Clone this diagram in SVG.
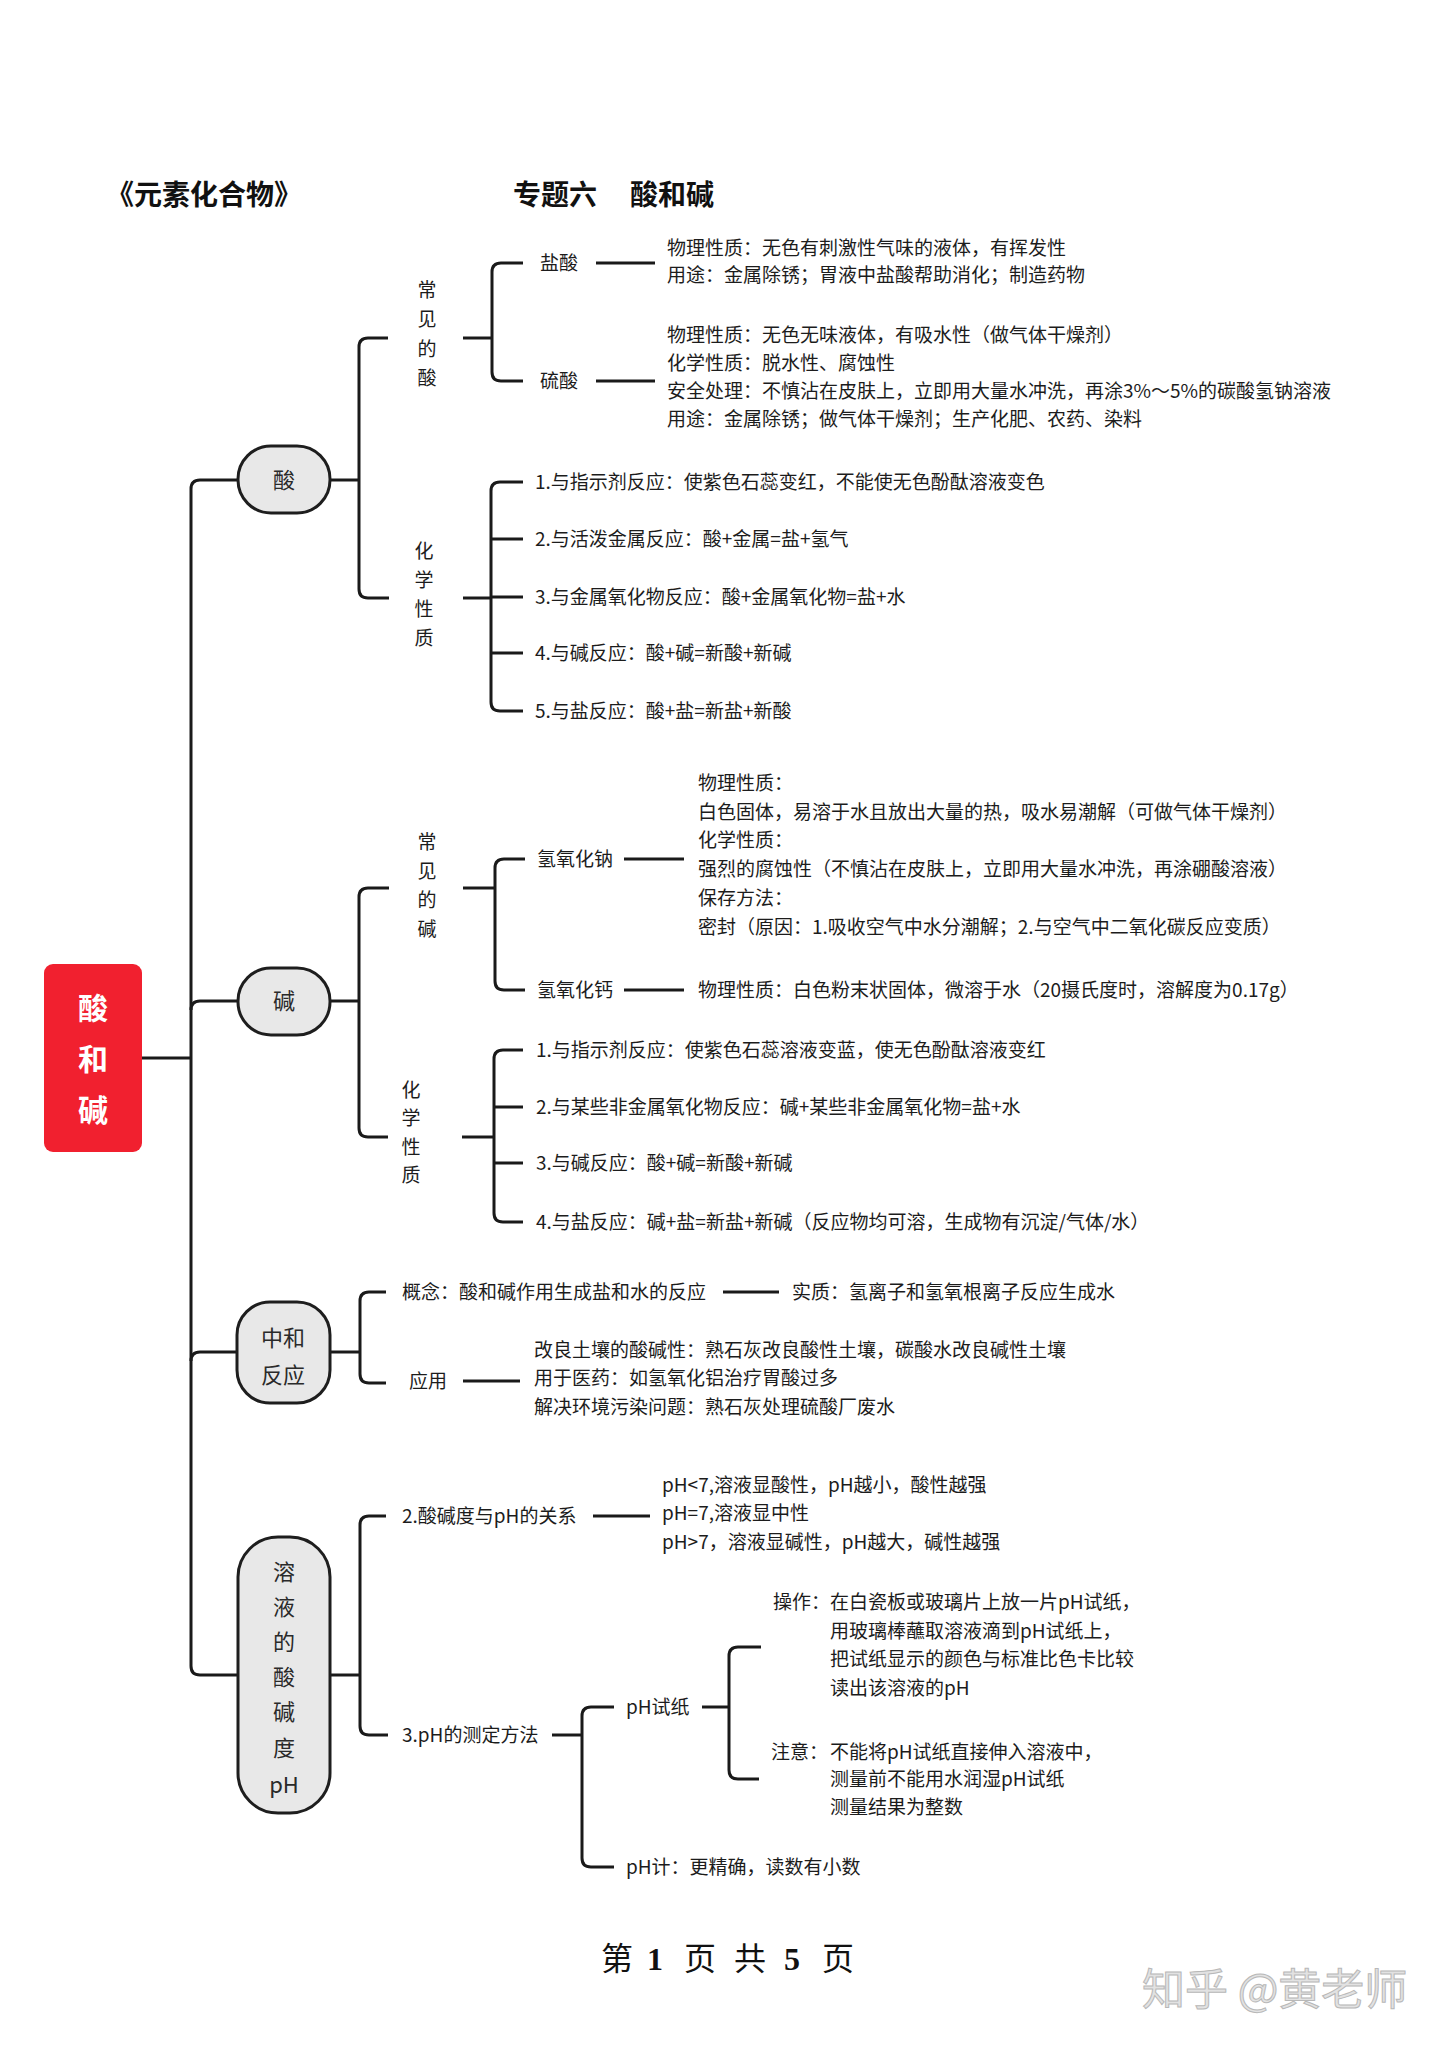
<svg xmlns="http://www.w3.org/2000/svg" width="1448" height="2048" viewBox="0 0 1448 2048">
<style>
text{font-family:"Noto Sans CJK SC","Liberation Sans",sans-serif;fill:#1c1c1c;}
.t{font-size:19px;}
.v{font-size:19px;text-anchor:middle;}
.n{font-size:22px;text-anchor:middle;fill:#2a2a2a;}
.title{font-size:28px;font-weight:700;fill:#111;}
.root{font-size:30px;font-weight:700;fill:#fff;text-anchor:middle;}
.foot{font-family:"Liberation Serif","Noto Sans CJK SC",serif;font-size:32px;text-anchor:middle;fill:#111;}
.wm{font-size:43px;fill:#e2e2e2;stroke:#b8b8b8;stroke-width:1;}
.ln{fill:none;stroke:#1a1a1a;stroke-width:3;stroke-linecap:butt;stroke-linejoin:round;}
.node{fill:#e8e8e8;stroke:#1e1e1e;stroke-width:3;}
</style>
<rect width="1448" height="2048" fill="#fff"/>

<g id="header">
<text class="title" x="106" y="205">《元素化合物》</text>
<text class="title" x="513" y="205">专题六</text>
<text class="title" x="630" y="205">酸和碱</text>
</g>

<g id="connectors">
<path class="ln" d="M142 1058 H191"/>
<path class="ln" d="M238 480 H200 Q191 480 191 489 V1666 Q191 1675 200 1675 H238"/>
<path class="ln" d="M191 1010 Q191 1001 200 1001 H238"/>
<path class="ln" d="M191 1361 Q191 1352 200 1352 H238"/>
<path class="ln" d="M330 480 H359"/>
<path class="ln" d="M388 338 H368 Q359 338 359 347 V589 Q359 598 368 598 H389"/>
<path class="ln" d="M463 338 H492"/>
<path class="ln" d="M523 263 H501 Q492 263 492 272 V372 Q492 381 501 381 H523"/>
<path class="ln" d="M596 263 H655"/>
<path class="ln" d="M596 381 H655"/>
<path class="ln" d="M463 598 H491"/>
<path class="ln" d="M523 482 H500 Q491 482 491 491 V702 Q491 711 500 711 H523"/>
<path class="ln" d="M491 539 H523 M491 597 H523 M491 653 H523"/>
<path class="ln" d="M330 1001 H359"/>
<path class="ln" d="M389 888 H368 Q359 888 359 897 V1128 Q359 1137 368 1137 H388"/>
<path class="ln" d="M463 888 H495"/>
<path class="ln" d="M525 859 H504 Q495 859 495 868 V981 Q495 990 504 990 H525"/>
<path class="ln" d="M624 859 H684"/>
<path class="ln" d="M624 990 H684"/>
<path class="ln" d="M462 1137 H494"/>
<path class="ln" d="M523 1050 H503 Q494 1050 494 1059 V1213 Q494 1222 503 1222 H523"/>
<path class="ln" d="M494 1107 H523 M494 1163 H523"/>
<path class="ln" d="M330 1352 H360"/>
<path class="ln" d="M386 1292 H369 Q360 1292 360 1301 V1374 Q360 1383 369 1383 H386"/>
<path class="ln" d="M723 1292 H779"/>
<path class="ln" d="M463 1381 H520"/>
<path class="ln" d="M330 1675 H360"/>
<path class="ln" d="M386 1516 H369 Q360 1516 360 1525 V1726 Q360 1735 369 1735 H388"/>
<path class="ln" d="M593 1516 H650"/>
<path class="ln" d="M552 1735 H582"/>
<path class="ln" d="M614 1707 H591 Q582 1707 582 1716 V1858 Q582 1867 591 1867 H614"/>
<path class="ln" d="M702 1707 H729"/>
<path class="ln" d="M761 1647 H738 Q729 1647 729 1656 V1770 Q729 1779 738 1779 H759"/>
</g>

<g id="root">
<rect x="44" y="964" width="98" height="188" rx="9" fill="#f1202f"/>
<text class="root" x="93" y="1019">酸</text>
<text class="root" x="93" y="1070">和</text>
<text class="root" x="93" y="1121">碱</text>
</g>

<g id="node-acid">
<rect class="node" x="238" y="446" width="92" height="67" rx="33"/>
<text class="n" x="284" y="488">酸</text>
</g>

<g id="acid-common">
<text class="v" x="427" y="297">常</text>
<text class="v" x="427" y="326">见</text>
<text class="v" x="427" y="356">的</text>
<text class="v" x="427" y="385">酸</text>
</g>
<g id="acid-hcl">
<text class="t" x="540" y="270">盐酸</text>
<text class="t" x="667" y="255">物理性质：无色有刺激性气味的液体，有挥发性</text>
<text class="t" x="667" y="282">用途：金属除锈；胃液中盐酸帮助消化；制造药物</text>
</g>
<g id="acid-h2so4">
<text class="t" x="540" y="388">硫酸</text>
<text class="t" x="667" y="342">物理性质：无色无味液体，有吸水性（做气体干燥剂）</text>
<text class="t" x="667" y="370">化学性质：脱水性、腐蚀性</text>
<text class="t" x="667" y="398">安全处理：不慎沾在皮肤上，立即用大量水冲洗，再涂3%～5%的碳酸氢钠溶液</text>
<text class="t" x="667" y="426">用途：金属除锈；做气体干燥剂；生产化肥、农药、染料</text>
</g>
<g id="acid-chem">
<text class="v" x="424" y="558">化</text>
<text class="v" x="424" y="587">学</text>
<text class="v" x="424" y="616">性</text>
<text class="v" x="424" y="645">质</text>
<text class="t" x="535" y="489">1.与指示剂反应：使紫色石蕊变红，不能使无色酚酞溶液变色</text>
<text class="t" x="535" y="546">2.与活泼金属反应：酸+金属=盐+氢气</text>
<text class="t" x="535" y="604">3.与金属氧化物反应：酸+金属氧化物=盐+水</text>
<text class="t" x="535" y="660">4.与碱反应：酸+碱=新酸+新碱</text>
<text class="t" x="535" y="718">5.与盐反应：酸+盐=新盐+新酸</text>
</g>

<g id="node-base">
<rect class="node" x="238" y="968" width="92" height="67" rx="33"/>
<text class="n" x="284" y="1009">碱</text>
</g>
<g id="base-common">
<text class="v" x="427" y="849">常</text>
<text class="v" x="427" y="878">见</text>
<text class="v" x="427" y="907">的</text>
<text class="v" x="427" y="936">碱</text>
</g>
<g id="base-naoh">
<text class="t" x="537" y="866">氢氧化钠</text>
<text class="t" x="698" y="790">物理性质：</text>
<text class="t" x="698" y="819">白色固体，易溶于水且放出大量的热，吸水易潮解（可做气体干燥剂）</text>
<text class="t" x="698" y="847">化学性质：</text>
<text class="t" x="698" y="876">强烈的腐蚀性（不慎沾在皮肤上，立即用大量水冲洗，再涂硼酸溶液）</text>
<text class="t" x="698" y="905">保存方法：</text>
<text class="t" x="698" y="934">密封（原因：1.吸收空气中水分潮解；2.与空气中二氧化碳反应变质）</text>
</g>
<g id="base-caoh2">
<text class="t" x="537" y="997">氢氧化钙</text>
<text class="t" x="698" y="997">物理性质：白色粉末状固体，微溶于水（20摄氏度时，溶解度为0.17g）</text>
</g>
<g id="base-chem">
<text class="v" x="411" y="1097">化</text>
<text class="v" x="411" y="1125">学</text>
<text class="v" x="411" y="1154">性</text>
<text class="v" x="411" y="1182">质</text>
<text class="t" x="536" y="1057">1.与指示剂反应：使紫色石蕊溶液变蓝，使无色酚酞溶液变红</text>
<text class="t" x="536" y="1114">2.与某些非金属氧化物反应：碱+某些非金属氧化物=盐+水</text>
<text class="t" x="536" y="1170">3.与碱反应：酸+碱=新酸+新碱</text>
<text class="t" x="536" y="1229">4.与盐反应：碱+盐=新盐+新碱（反应物均可溶，生成物有沉淀/气体/水）</text>
</g>

<g id="node-neutral">
<rect class="node" x="237" y="1302" width="93" height="101" rx="33"/>
<text class="n" x="283" y="1346">中和</text>
<text class="n" x="283" y="1383">反应</text>
</g>
<g id="neutral-items">
<text class="t" x="402" y="1299">概念：酸和碱作用生成盐和水的反应</text>
<text class="t" x="792" y="1299">实质：氢离子和氢氧根离子反应生成水</text>
<text class="t" x="409" y="1388">应用</text>
<text class="t" x="534" y="1357">改良土壤的酸碱性：熟石灰改良酸性土壤，碳酸水改良碱性土壤</text>
<text class="t" x="534" y="1385">用于医药：如氢氧化铝治疗胃酸过多</text>
<text class="t" x="534" y="1414">解决环境污染问题：熟石灰处理硫酸厂废水</text>
</g>

<g id="node-ph">
<rect class="node" x="238" y="1537" width="92" height="276" rx="40"/>
<text class="n" x="284" y="1580">溶</text>
<text class="n" x="284" y="1615">液</text>
<text class="n" x="284" y="1650">的</text>
<text class="n" x="284" y="1685">酸</text>
<text class="n" x="284" y="1720">碱</text>
<text class="n" x="284" y="1756">度</text>
<text class="n" x="284" y="1793">pH</text>
</g>
<g id="ph-relation">
<text class="t" x="402" y="1523">2.酸碱度与pH的关系</text>
<text class="t" x="662" y="1492">pH&lt;7,溶液显酸性，pH越小，酸性越强</text>
<text class="t" x="662" y="1520">pH=7,溶液显中性</text>
<text class="t" x="662" y="1549">pH&gt;7，溶液显碱性，pH越大，碱性越强</text>
</g>
<g id="ph-measure">
<text class="t" x="402" y="1742">3.pH的测定方法</text>
<text class="t" x="626" y="1714">pH试纸</text>
<text class="t" x="773" y="1609">操作：</text>
<text class="t" x="830" y="1609">在白瓷板或玻璃片上放一片pH试纸，</text>
<text class="t" x="830" y="1638">用玻璃棒蘸取溶液滴到pH试纸上，</text>
<text class="t" x="830" y="1666">把试纸显示的颜色与标准比色卡比较</text>
<text class="t" x="830" y="1695">读出该溶液的pH</text>
<text class="t" x="771" y="1759">注意：</text>
<text class="t" x="830" y="1759">不能将pH试纸直接伸入溶液中，</text>
<text class="t" x="830" y="1786">测量前不能用水润湿pH试纸</text>
<text class="t" x="830" y="1814">测量结果为整数</text>
<text class="t" x="626" y="1874">pH计：更精确，读数有小数</text>
</g>

<g id="footer">
<text class="foot" x="617" y="1970">第</text>
<text class="foot" x="655" y="1970" font-weight="700">1</text>
<text class="foot" x="700" y="1970">页</text>
<text class="foot" x="750" y="1970">共</text>
<text class="foot" x="792" y="1970" font-weight="700">5</text>
<text class="foot" x="838" y="1970">页</text>
<text class="wm" x="1142" y="2005">知乎 @黄老师</text>
</g>
</svg>
